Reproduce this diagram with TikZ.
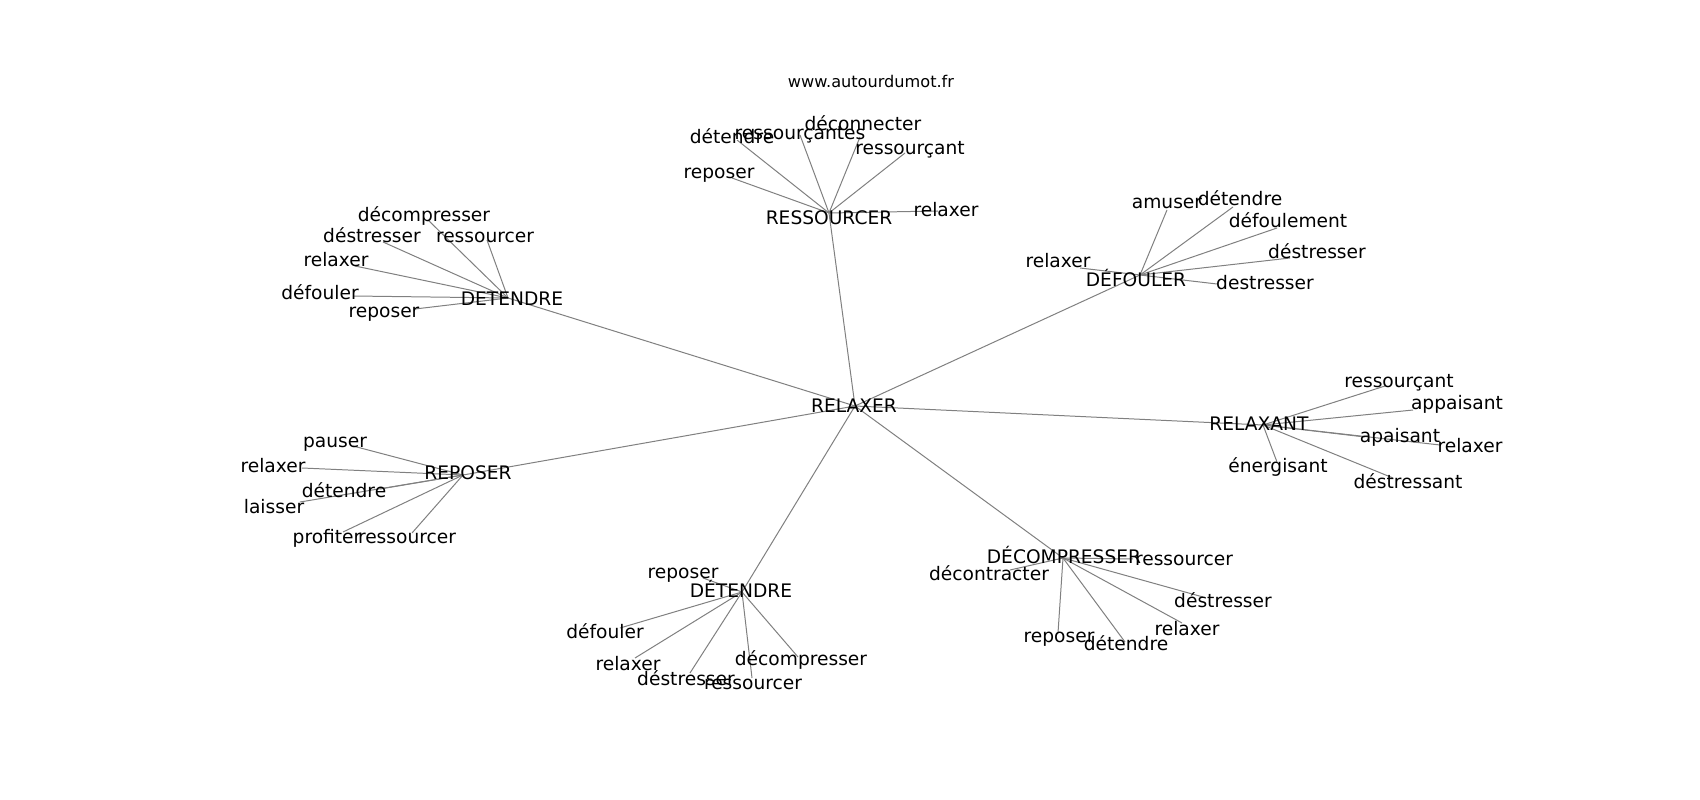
\documentclass[tikz,border=0pt]{standalone}
\usepackage{fontspec}
\setmainfont{DejaVu Sans}
\begin{document}
\begin{tikzpicture}[x=0.01in,y=-0.01in,
  lbl/.style={anchor=base,inner sep=0pt,font=\fontsize{13.46pt}{14pt}\selectfont,text=black},
  ttl/.style={anchor=base,inner sep=0pt,font=\fontsize{11.66pt}{12pt}\selectfont,text=black},
  edge/.style={draw=black!50,line width=0.72pt}]
\path[use as bounding box,fill=white] (0,0) rectangle (1700,800);
\node[ttl] (title) at (871,88) {www.autourdumot.fr};
% hub points
\coordinate (R0) at (855,406);
\coordinate (H1) at (829,213);
\coordinate (H2) at (508,298);
\coordinate (H3) at (1140,275);
\coordinate (H4) at (1263,425);
\coordinate (H5) at (463,475);
\coordinate (H6) at (742,592);
\coordinate (H7) at (1063,558);
% leaf points
\coordinate (a1) at (737,140);
\coordinate (a2) at (800,135);
\coordinate (a3) at (860,137);
\coordinate (a4) at (905,153);
\coordinate (a5) at (732,178);
\coordinate (a6) at (938,211);
\coordinate (b1) at (428,220);
\coordinate (b2) at (383,242);
\coordinate (b3) at (487,240);
\coordinate (b4) at (355,266);
\coordinate (b5) at (353,296);
\coordinate (b6) at (415,309);
\coordinate (c1) at (1167,210);
\coordinate (c2) at (1233,207);
\coordinate (c3) at (1277,228);
\coordinate (c4) at (1290,258);
\coordinate (c5) at (1217,284);
\coordinate (c6) at (1080,268);
\coordinate (d1) at (1385,386);
\coordinate (d2) at (1413,410);
\coordinate (d3) at (1365,437);
\coordinate (d4) at (1440,445);
\coordinate (d5) at (1277,462);
\coordinate (d6) at (1393,478);
\coordinate (e1) at (353,446);
\coordinate (e2) at (302,468);
\coordinate (e3) at (380,489);
\coordinate (e4) at (300,502);
\coordinate (e5) at (343,532);
\coordinate (e6) at (412,533);
\coordinate (f1) at (703,578);
\coordinate (f2) at (620,628);
\coordinate (f3) at (635,658);
\coordinate (f4) at (690,673);
\coordinate (f5) at (752,678);
\coordinate (f6) at (798,657);
\coordinate (g1) at (1133,559);
\coordinate (g2) at (1010,570);
\coordinate (g3) at (1203,597);
\coordinate (g4) at (1182,623);
\coordinate (g5) at (1058,633);
\coordinate (g6) at (1125,642);
% edges
\foreach \h in {H1,H2,H3,H4,H5,H6,H7} {\draw[edge] (R0) -- (\h);}
\foreach \l in {a1,a2,a3,a4,a5,a6} {\draw[edge] (H1) -- (\l);}
\foreach \l in {b1,b2,b3,b4,b5,b6} {\draw[edge] (H2) -- (\l);}
\foreach \l in {c1,c2,c3,c4,c5,c6} {\draw[edge] (H3) -- (\l);}
\foreach \l in {d1,d2,d3,d4,d5,d6} {\draw[edge] (H4) -- (\l);}
\foreach \l in {e1,e2,e3,e4,e5,e6} {\draw[edge] (H5) -- (\l);}
\foreach \l in {f1,f2,f3,f4,f5,f6} {\draw[edge] (H6) -- (\l);}
\foreach \l in {g1,g2,g3,g4,g5,g6} {\draw[edge] (H7) -- (\l);}
% hub labels
\node[lbl] (tR0) at (854,412) {RELAXER};
\node[lbl] (tH1) at (829,225) {RESSOURCER};
\node[lbl] (tH2) at (512,306) {DETENDRE};
\node[lbl] (tH3) at (1136,287) {DÉFOULER};
\node[lbl] (tH4) at (1259,431) {RELAXANT};
\node[lbl] (tH5) at (468,480) {REPOSER};
\node[lbl] (tH6) at (741,597) {DÉTENDRE};
\node[lbl] (tH7) at (1064,563) {DÉCOMPRESSER};
% leaf labels
\node[lbl] (ta1) at (732,144) {détendre};
\node[lbl] (ta2) at (800,140) {ressourçantes};
\node[lbl] (ta3) at (863,131) {déconnecter};
\node[lbl] (ta4) at (910,155) {ressourçant};
\node[lbl] (ta5) at (719,179) {reposer};
\node[lbl] (ta6) at (946,217) {relaxer};
\node[lbl] (tb1) at (424,222) {décompresser};
\node[lbl] (tb2) at (372,243) {déstresser};
\node[lbl] (tb3) at (485,243) {ressourcer};
\node[lbl] (tb4) at (336,267) {relaxer};
\node[lbl] (tb5) at (320,300) {défouler};
\node[lbl] (tb6) at (384,318) {reposer};
\node[lbl] (tc1) at (1167,209) {amuser};
\node[lbl] (tc2) at (1240,206) {détendre};
\node[lbl] (tc3) at (1288,228) {défoulement};
\node[lbl] (tc4) at (1317,259) {déstresser};
\node[lbl] (tc5) at (1265,290) {destresser};
\node[lbl] (tc6) at (1058,268) {relaxer};
\node[lbl] (td1) at (1399,387) {ressourçant};
\node[lbl] (td2) at (1457,410) {appaisant};
\node[lbl] (td3) at (1400,442) {apaisant};
\node[lbl] (td4) at (1470,453) {relaxer};
\node[lbl] (td5) at (1278,472) {énergisant};
\node[lbl] (td6) at (1408,488) {déstressant};
\node[lbl] (te1) at (335,447) {pauser};
\node[lbl] (te2) at (273,472) {relaxer};
\node[lbl] (te3) at (344,497) {détendre};
\node[lbl] (te4) at (274,513) {laisser};
\node[lbl] (te5) at (327,543) {profiter};
\node[lbl] (te6) at (407,543) {ressourcer};
\node[lbl] (tf1) at (683,578) {reposer};
\node[lbl] (tf2) at (605,638) {défouler};
\node[lbl] (tf3) at (628,670) {relaxer};
\node[lbl] (tf4) at (686,685) {déstresser};
\node[lbl] (tf5) at (753,689) {ressourcer};
\node[lbl] (tf6) at (801,665) {décompresser};
\node[lbl] (tg1) at (1184,565) {ressourcer};
\node[lbl] (tg2) at (989,580) {décontracter};
\node[lbl] (tg3) at (1223,607) {déstresser};
\node[lbl] (tg4) at (1187,635) {relaxer};
\node[lbl] (tg5) at (1059,642) {reposer};
\node[lbl] (tg6) at (1126,650) {détendre};
\end{tikzpicture}
\end{document}
